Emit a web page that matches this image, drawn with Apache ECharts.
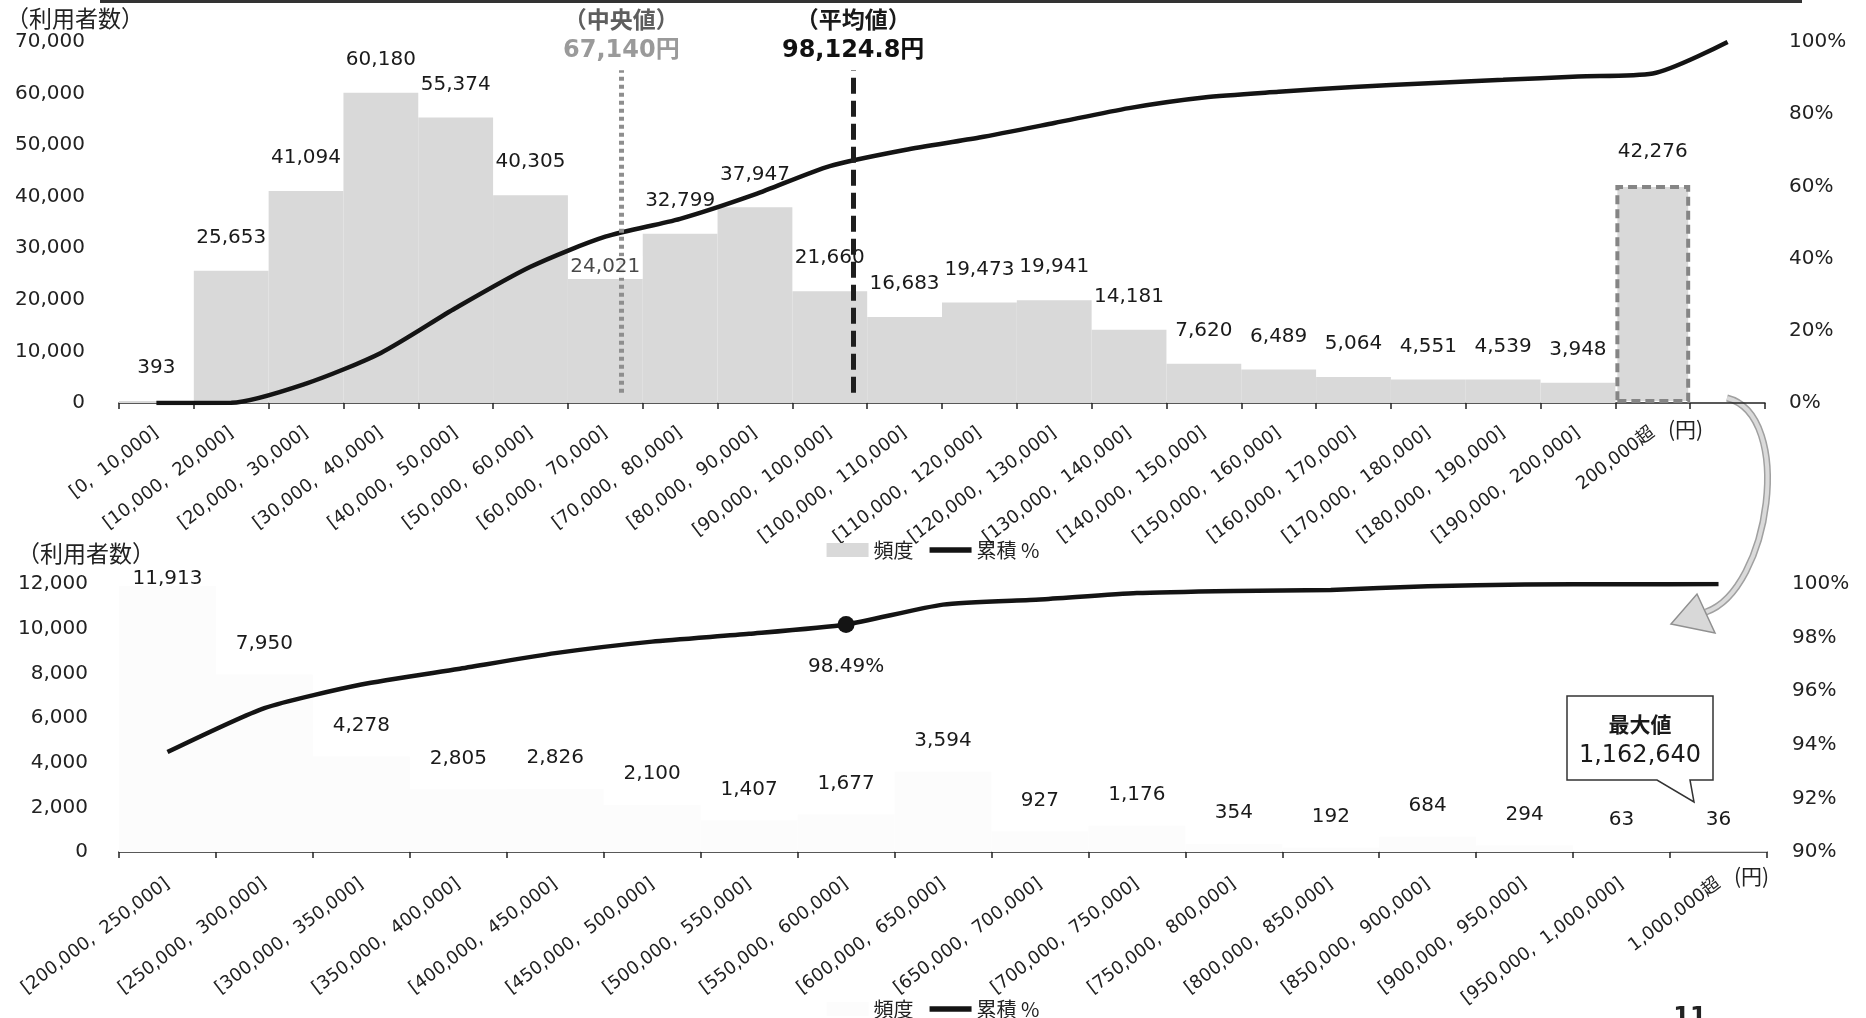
<!DOCTYPE html>
<html>
<head>
<meta charset="utf-8">
<title>利用額の分布</title>
<script src="https://cdn.jsdelivr.net/npm/echarts@6.0.0/dist/echarts.min.js"></script>
<style>
  html, body { margin: 0; padding: 0; background: #ffffff; }
  #chart { width: 1866px; height: 1018px; }
</style>
</head>
<body>
<div id="chart"></div>
<script>
// ---- 上段: 20万円以下 (1万円刻み) ----
const topLabels = [
  '[0,  10,000]', '[10,000,  20,000]', '[20,000,  30,000]', '[30,000,  40,000]',
  '[40,000,  50,000]', '[50,000,  60,000]', '[60,000,  70,000]', '[70,000,  80,000]',
  '[80,000,  90,000]', '[90,000,  100,000]', '[100,000,  110,000]', '[110,000,  120,000]',
  '[120,000,  130,000]', '[130,000,  140,000]', '[140,000,  150,000]', '[150,000,  160,000]',
  '[160,000,  170,000]', '[170,000,  180,000]', '[180,000,  190,000]', '[190,000,  200,000]',
  '200,000超', ''
];
const topCounts = [
  393, 25653, 41094, 60180, 55374, 40305, 24021, 32799, 37947, 21660,
  16683, 19473, 19941, 14181, 7620, 6489, 5064, 4551, 4539, 3948, 42276
];
// 累積 % (各区間の手前までの累積構成比)
const topCumPct = [
  0, 0.08, 5.38, 13.87, 26.30, 37.73, 46.06, 51.02, 57.79, 65.63, 70.10,
  73.55, 77.57, 81.69, 84.62, 86.19, 87.53, 88.58, 89.52, 90.45, 91.27, 100
];

// ---- 下段: 20万円超の内訳 (5万円刻み) ----
const bottomLabels = [
  '[200,000,  250,000]', '[250,000,  300,000]', '[300,000,  350,000]', '[350,000,  400,000]',
  '[400,000,  450,000]', '[450,000,  500,000]', '[500,000,  550,000]', '[550,000,  600,000]',
  '[600,000,  650,000]', '[650,000,  700,000]', '[700,000,  750,000]', '[750,000,  800,000]',
  '[800,000,  850,000]', '[850,000,  900,000]', '[900,000,  950,000]', '[950,000,  1,000,000]',
  '1,000,000超'
];
const bottomCounts = [
  11913, 7950, 4278, 2805, 2826, 2100, 1407, 1677, 3594, 927, 1176, 354, 192, 684, 294, 63, 36
];
const bottomCumPct = [
  93.73, 95.37, 96.25, 96.83, 97.42, 97.85, 98.14, 98.49, 99.23, 99.42, 99.66,
  99.74, 99.78, 99.92, 99.98, 99.99, 100
];

// ---- 代表値 (円) ----
const medianYen = 67140;
const meanYen = 98124.8;
const maxYen = 1162640;

// ---- 軸目盛 ----
const topCountTicks = { min: 0, max: 70000, interval: 10000 };
const topPctTicks = { min: 0, max: 100, interval: 20 };
const bottomCountTicks = { min: 0, max: 12000, interval: 2000 };
const bottomPctTicks = { min: 90, max: 100, interval: 2 };

const NUM = "'DejaVu Sans', 'Noto Sans CJK JP', sans-serif";
const JP = "'Noto Sans CJK JP', 'DejaVu Sans', sans-serif";
const INK = '#222222';
const fmt = v => Number(v).toLocaleString('en-US');
const fmt1 = v => Number(v).toLocaleString('en-US', { minimumFractionDigits: 1, maximumFractionDigits: 1 });

const binWidthTop = 10000;
const openBin = topCounts.length - 1;                 // 200,000超
const medianBin = Math.floor(medianYen / binWidthTop); // 中央値を含む区間

const topBarData = topCounts.map((v, i) => {
  const item = { value: v };
  if (i === openBin) {
    item.itemStyle = { borderColor: '#858585', borderWidth: 4, borderType: [9, 5] };
  }
  if (i === medianBin) item.label = { show: false };
  return item;
});

const bottomBarData = bottomCounts.map((v, i) => {
  const item = { value: v };
  if (i === 0) item.label = { distance: -3 };
  return item;
});

const pointIdx = 7; // 600,000円までの累積
const chart = echarts.init(document.getElementById('chart'), null, { renderer: 'canvas' });

const catAxisCommon = {
  type: 'category',
  boundaryGap: true,
  axisLine: { lineStyle: { color: INK, width: 1.5 } },
  axisTick: { show: true, interval: 0, length: 6, lineStyle: { color: INK, width: 1.5 } },
  axisLabel: { interval: 0, rotate: 37, fontSize: 18, fontFamily: NUM, color: INK }
};
const valAxisCommon = {
  type: 'value',
  axisLine: { show: false },
  axisTick: { show: false },
  splitLine: { show: false }
};
const nameStyle = (padTop) => ({
  fontFamily: JP, fontSize: 21, color: INK, align: 'left', verticalAlign: 'top',
  padding: [padTop, 0, 0, 0]
});

// 凡例の線アイコン (太い黒線)
const lineIcon = 'path://M0 0H44V6H0Z';
const legendCommon = {
  left: 'center', itemWidth: 42, itemHeight: 14, itemGap: 16,
  textStyle: { fontFamily: JP, fontSize: 20, color: INK }
};

const option = {
  animation: false,
  backgroundColor: '#ffffff',
  grid: [
    { left: 119, right: 101, top: 42, height: 361 },
    { left: 119, right: 99, top: 584, height: 268 }
  ],
  legend: [
    Object.assign({ top: 535 }, legendCommon, {
      data: [{ name: '頻度', icon: 'rect' }, { name: '累積 %', icon: lineIcon }]
    }),
    Object.assign({ top: 994 }, legendCommon, {
      data: [{ name: '頻度', icon: 'rect', itemStyle: { color: '#fcfcfc' } }, { name: '累積 %', icon: lineIcon }]
    })
  ],
  xAxis: [
    Object.assign({}, catAxisCommon, {
      gridIndex: 0, data: topLabels,
      axisLabel: Object.assign({}, catAxisCommon.axisLabel, { margin: 28 }),
      name: '(円)', nameLocation: 'end', nameGap: -97, nameTextStyle: nameStyle(16)
    }),
    { type: 'value', gridIndex: 0, min: 0, max: topLabels.length * binWidthTop, show: false },
    Object.assign({}, catAxisCommon, {
      gridIndex: 1, data: bottomLabels,
      axisLabel: Object.assign({}, catAxisCommon.axisLabel, { margin: 30 }),
      name: '(円)', nameLocation: 'end', nameGap: -33, nameTextStyle: nameStyle(14)
    })
  ],
  yAxis: [
    Object.assign({}, valAxisCommon, topCountTicks, {
      gridIndex: 0,
      axisLabel: { margin: 34, fontSize: 20, fontFamily: NUM, color: INK, formatter: v => fmt(v) }
    }),
    Object.assign({}, valAxisCommon, topPctTicks, {
      gridIndex: 0, position: 'right',
      axisLabel: { margin: 24, fontSize: 20, fontFamily: NUM, color: INK, formatter: '{value}%' }
    }),
    Object.assign({}, valAxisCommon, bottomCountTicks, {
      gridIndex: 1,
      axisLabel: { margin: 31, fontSize: 20, fontFamily: NUM, color: INK, formatter: v => fmt(v) }
    }),
    Object.assign({}, valAxisCommon, bottomPctTicks, {
      gridIndex: 1, position: 'right',
      axisLabel: { margin: 25, fontSize: 20, fontFamily: NUM, color: INK, formatter: '{value}%' }
    })
  ],
  series: [
    {
      name: '頻度', type: 'bar', xAxisIndex: 0, yAxisIndex: 0,
      data: topBarData, barCategoryGap: '0%', z: 2,
      itemStyle: { color: '#d9d9d9' },
      label: {
        show: true, position: 'top', distance: 23, fontSize: 20, fontFamily: NUM, color: '#1a1a1a',
        formatter: p => fmt(p.value)
      }
    },
    {
      name: '累積 %', type: 'line', xAxisIndex: 0, yAxisIndex: 1,
      data: topCumPct, smooth: 0.25, symbol: 'none', z: 3,
      lineStyle: { color: '#141414', width: 4.5 },
      itemStyle: { color: '#141414' }
    },
    {
      name: '代表値', type: 'line', xAxisIndex: 1, yAxisIndex: 0, data: [], z: 4,
      markLine: {
        silent: true, symbol: ['none', 'none'], animation: false,
        label: { position: 'end', distance: 4 },
        data: [
          [
            {
              coord: [medianYen, 2000],
              lineStyle: { color: '#8e8e8e', width: 5, type: [4, 4] },
              label: {
                formatter: '{t|（中央値）}\n{v|' + fmt(medianYen) + '円}',
                rich: {
                  t: { fontFamily: JP, fontSize: 23, fontWeight: 'bold', color: '#5e5e5e', lineHeight: 30, align: 'center' },
                  v: { fontFamily: NUM, fontSize: 24, fontWeight: 'bold', color: '#9a9a9a', lineHeight: 32, align: 'center' }
                }
              }
            },
            { coord: [medianYen, 64500] }
          ],
          [
            {
              coord: [meanYen, 2000],
              lineStyle: { color: '#1e1e1e', width: 5, type: [16, 7] },
              label: {
                formatter: '{t|（平均値）}\n{v|' + fmt1(meanYen) + '円}',
                rich: {
                  t: { fontFamily: JP, fontSize: 23, fontWeight: 'bold', color: '#1a1a1a', lineHeight: 30, align: 'center' },
                  v: { fontFamily: NUM, fontSize: 24, fontWeight: 'bold', color: '#111111', lineHeight: 32, align: 'center' }
                }
              }
            },
            { coord: [meanYen, 64500] }
          ]
        ]
      }
    },
    {
      // 中央値の線に重なる区間の値ラベル (白地で線の上に表示)
      name: '中央値区間', type: 'scatter', xAxisIndex: 0, yAxisIndex: 0, z: 6,
      data: [[medianBin, topCounts[medianBin]]], symbolSize: 0, silent: true,
      label: {
        show: true, position: 'top', distance: 1, fontSize: 20, fontFamily: NUM, color: '#1a1a1a',
        backgroundColor: '#ffffff', padding: [1, 2],
        formatter: p => fmt(p.value[1])
      }
    },
    {
      name: '頻度', type: 'bar', xAxisIndex: 2, yAxisIndex: 2,
      data: bottomBarData, barCategoryGap: '0%',
      itemStyle: { color: '#fcfcfc' },
      label: {
        show: true, position: 'top', distance: 21, fontSize: 20, fontFamily: NUM, color: '#1a1a1a',
        formatter: p => fmt(p.value)
      }
    },
    {
      name: '累積 %', type: 'line', xAxisIndex: 2, yAxisIndex: 3,
      data: bottomCumPct, smooth: 0.2, symbol: 'none',
      lineStyle: { color: '#141414', width: 4.5 },
      itemStyle: { color: '#141414' },
      markPoint: {
        silent: true, animation: false,
        symbol: 'circle', symbolSize: 17,
        itemStyle: { color: '#141414' },
        label: {
          show: true, position: 'bottom', distance: 24, fontSize: 20, fontFamily: NUM, color: '#1a1a1a',
          formatter: p => p.value.toFixed(2) + '%'
        },
        data: [{ coord: [pointIdx, bottomCumPct[pointIdx]], value: bottomCumPct[pointIdx] }]
      }
    }
  ],
  graphic: [
    { type: 'line', silent: true, shape: { x1: 100, y1: 1.5, x2: 1802, y2: 1.5 }, style: { stroke: '#333333', lineWidth: 3 } },
    {
      type: 'text', x: 6, y: 18, silent: true,
      style: { text: '（利用者数）', font: '23px ' + JP, fill: INK, align: 'left', verticalAlign: 'middle', textAlign: 'left', textVerticalAlign: 'middle' }
    },
    {
      type: 'text', x: 17, y: 553, silent: true,
      style: { text: '（利用者数）', font: '23px ' + JP, fill: INK, align: 'left', verticalAlign: 'middle', textAlign: 'left', textVerticalAlign: 'middle' }
    },
    // 上段の「200,000超」から下段の内訳へ向かう矢印
    {
      type: 'bezierCurve', silent: true,
      shape: { x1: 1727, y1: 398, cpx1: 1795, cpy1: 415, cpx2: 1770, cpy2: 590, x2: 1706, y2: 612 },
      style: { stroke: '#a0a0a0', lineWidth: 7, fill: null }
    },
    {
      type: 'bezierCurve', silent: true,
      shape: { x1: 1727, y1: 398, cpx1: 1795, cpy1: 415, cpx2: 1770, cpy2: 590, x2: 1706, y2: 612 },
      style: { stroke: '#dadada', lineWidth: 4, fill: null }
    },
    {
      type: 'polygon', silent: true,
      shape: { points: [[1671, 624], [1697, 594], [1715, 633]] },
      style: { fill: '#d8d8d8', stroke: '#909090', lineWidth: 1.5 }
    },
    // 最大値の吹き出し
    {
      type: 'polygon', silent: true,
      shape: { points: [[1567, 696], [1713, 696], [1713, 780], [1690, 780], [1694, 802], [1657, 780], [1567, 780]] },
      style: { fill: '#ffffff', stroke: '#333333', lineWidth: 1.5 }
    },
    {
      type: 'text', x: 1640, y: 724, silent: true,
      style: { text: '最大値', font: 'bold 21px ' + JP, fill: '#1a1a1a', align: 'center', verticalAlign: 'middle', textAlign: 'center', textVerticalAlign: 'middle' }
    },
    {
      type: 'text', x: 1640, y: 756, silent: true,
      style: { text: fmt(maxYen), font: '24px ' + NUM, fill: '#1a1a1a', align: 'center', verticalAlign: 'middle', textAlign: 'center', textVerticalAlign: 'middle' }
    },
    {
      type: 'text', x: 1690, y: 1006, silent: true,
      style: { text: '11', font: 'bold 24px ' + NUM, fill: INK, align: 'center', verticalAlign: 'top', textAlign: 'center', textVerticalAlign: 'top' }
    }
  ]
};

chart.setOption(option);
</script>
</body>
</html>
